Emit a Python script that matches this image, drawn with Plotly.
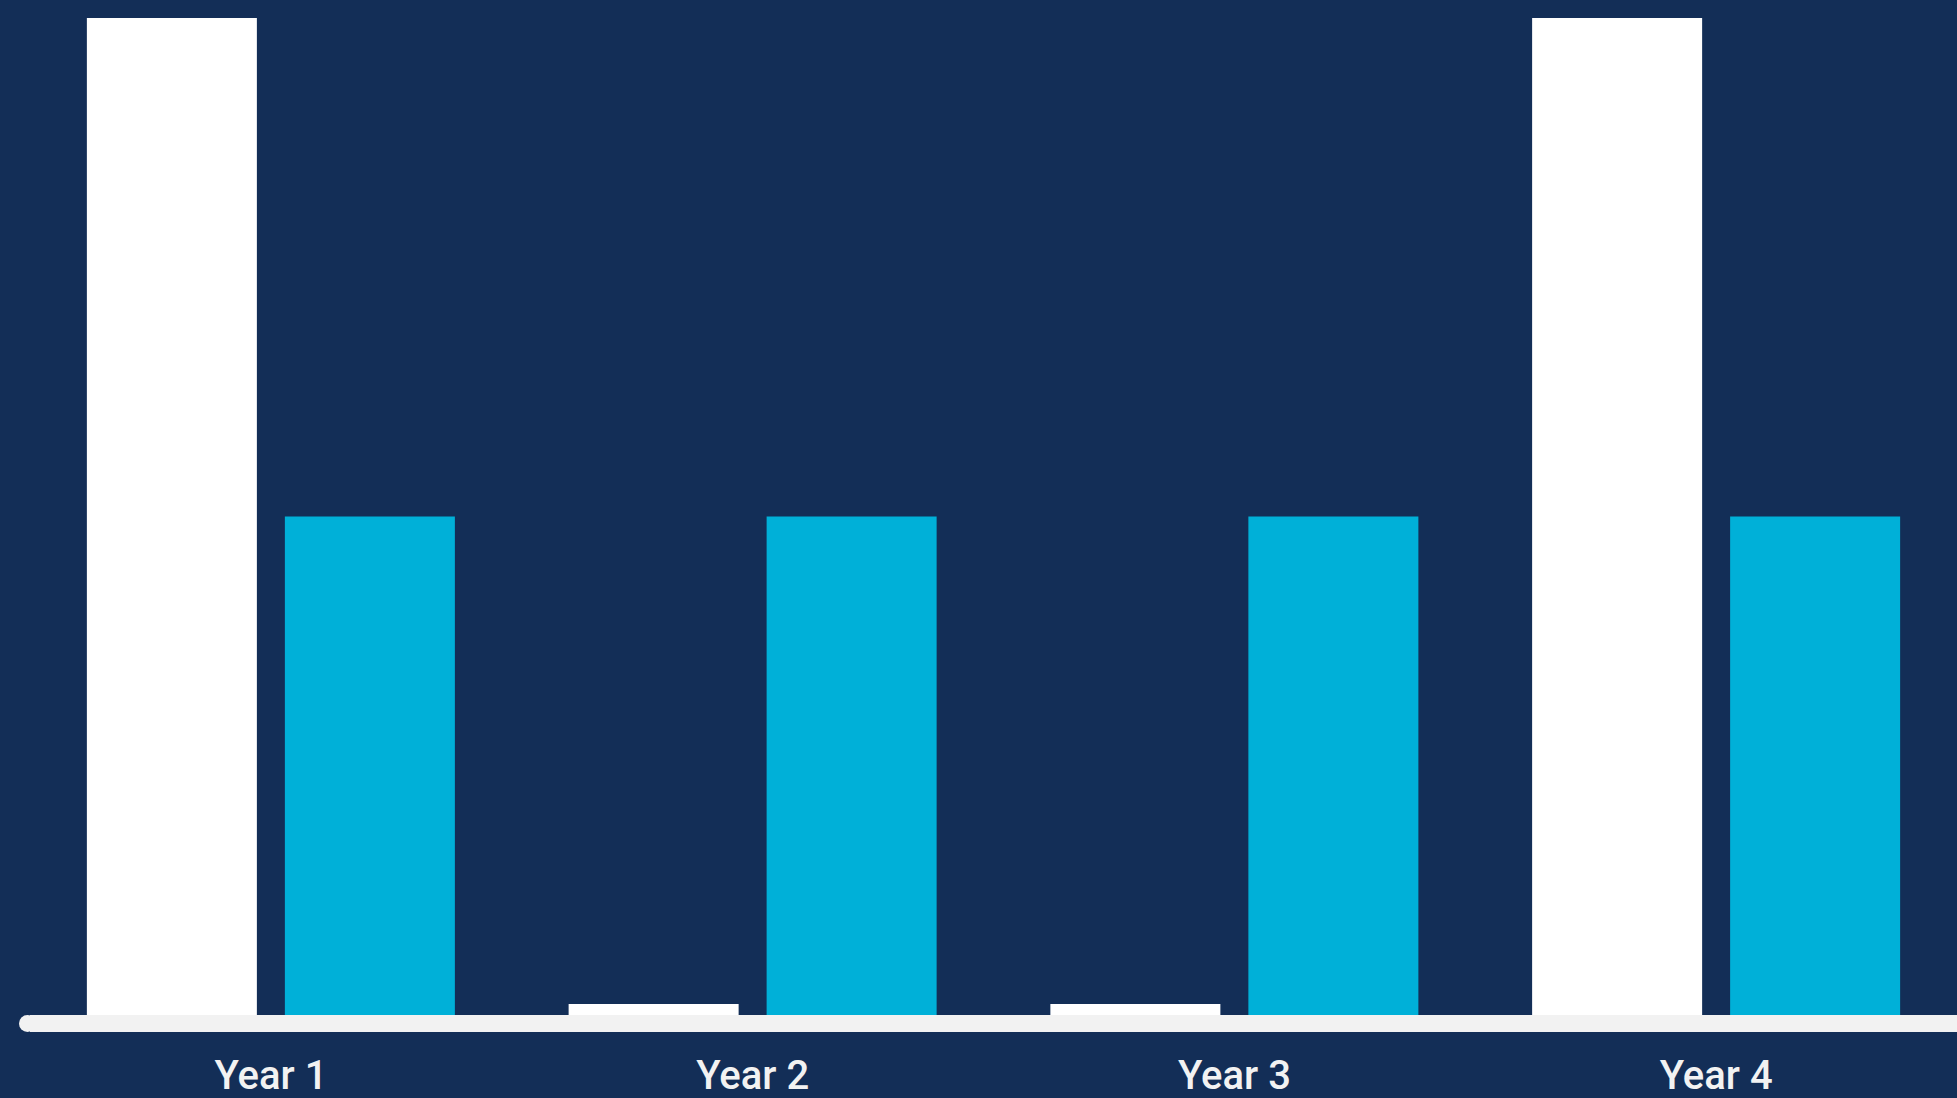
import plotly.graph_objects as go

categories = ["Year 1", "Year 2", "Year 3", "Year 4"]
series_a = [100, 1.1, 1.1, 100]
series_b = [50, 50, 50, 50]

BG = "#132E57"
WHITE = "#FFFFFF"
CYAN = "#00B0D8"
AXIS = "#F2F2F2"

fig = go.Figure()
fig.add_trace(go.Bar(x=categories, y=series_a, marker=dict(color=WHITE, line=dict(width=0)), name="A"))
fig.add_trace(go.Bar(x=categories, y=series_b, marker=dict(color=CYAN, line=dict(width=0)), name="B"))

fig.update_layout(
    width=1957, height=1098,
    paper_bgcolor=BG, plot_bgcolor=BG,
    margin=dict(l=30, r=0, t=18, b=83, autoexpand=False),
    barmode="group", bargap=0.178, bargroupgap=0.1414,
    showlegend=False,
    xaxis=dict(
        showgrid=False, zeroline=False, automargin=False,
        showline=True, linecolor=AXIS, linewidth=17,
        ticks="", ticklabelstandoff=9,
        tickfont=dict(family="Roboto", size=40, color=AXIS, weight=500),
        range=[-0.5, 3.5],
    ),
    yaxis=dict(showgrid=False, zeroline=False, showticklabels=False, range=[0, 100], automargin=False),
    shapes=[dict(
        type="circle", xref="paper", yref="paper",
        xsizemode="pixel", ysizemode="pixel", xanchor=0, yanchor=0,
        x0=-11, x1=6, y0=-17, y1=0,
        fillcolor=AXIS, line=dict(width=0), layer="below",
    )],
)

fig.write_html(
    "out.html",
    config={"displayModeBar": False},
    post_script="document.body.style.margin='0';document.body.style.overflow='hidden';document.body.style.background='#132E57';",
)
